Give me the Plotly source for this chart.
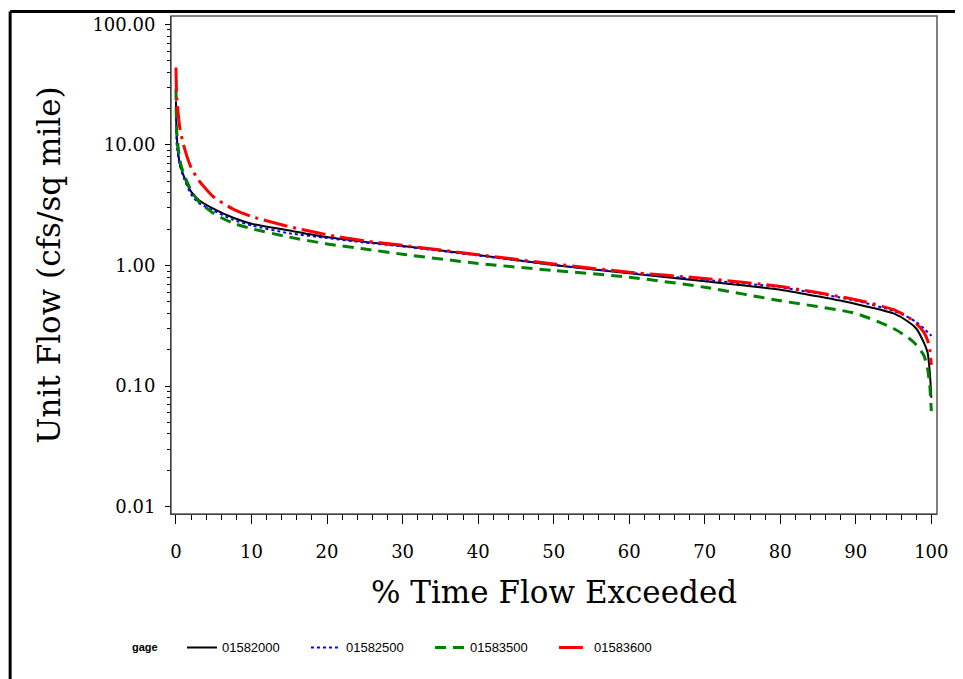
import plotly.graph_objects as go

# ---- data ----
pct = [0, 0.1, 0.5, 1, 2, 3, 5, 7.5, 10, 15, 20, 25, 30, 40, 50, 60, 70, 80, 90, 95, 97, 98, 99, 99.5, 99.8, 100]
gage_01582000 = [23, 12, 7.0, 5.6, 4.1, 3.5, 2.95, 2.5, 2.22, 1.95, 1.72, 1.57, 1.45, 1.22, 1.01, 0.86, 0.74, 0.63, 0.48, 0.40, 0.34, 0.30, 0.23, 0.19, 0.13, 0.08]
gage_01582500 = [18.7, 10, 6.8, 5.4, 3.9, 3.3, 2.85, 2.4, 2.15, 1.85, 1.69, 1.55, 1.44, 1.21, 1.01, 0.87, 0.76, 0.66, 0.51, 0.42, 0.37, 0.34, 0.30, 0.28, 0.27, 0.26]
gage_01583500 = [29, 13, 7.5, 5.8, 4.2, 3.4, 2.7, 2.25, 2.02, 1.72, 1.51, 1.37, 1.24, 1.04, 0.91, 0.80, 0.66, 0.51, 0.40, 0.30, 0.25, 0.22, 0.18, 0.14, 0.10, 0.062]
gage_01583600 = [44, 25, 14, 10, 6.5, 5.1, 3.7, 2.95, 2.55, 2.1, 1.8, 1.6, 1.47, 1.23, 1.03, 0.88, 0.78, 0.67, 0.52, 0.43, 0.37, 0.33, 0.28, 0.24, 0.20, 0.15]

series_names = ["01582000", "01582500", "01583500", "01583600"]
x_tick_vals = [0, 10, 20, 30, 40, 50, 60, 70, 80, 90, 100]
y_tick_vals = [0.01, 0.1, 1, 10, 100]
y_tick_text = ["0.01", "0.10", "1.00", "10.00", "100.00"]
y_minor_vals = [m * 10 ** e for e in (-2, -1, 0, 1) for m in range(2, 10)]

styles = [
    dict(color="black", width=2, dash="solid"),
    dict(color="#0000ff", width=2, dash="3px,3px"),
    dict(color="#008000", width=3, dash="11px,7px"),
    dict(color="#ff0000", width=3, dash="24px,6px,3px,6px"),
]

fig = go.Figure()
for name, vals, st in zip(series_names, [gage_01582000, gage_01582500, gage_01583500, gage_01583600], styles):
    fig.add_trace(go.Scatter(x=pct, y=vals, mode="lines", name=name, line=dict(**st, shape="spline", smoothing=0.6)))

serif = "DejaVu Serif, Liberation Serif, serif"

fig.update_layout(
    width=955, height=671,
    margin=dict(l=163, r=26, t=6, b=165),
    paper_bgcolor="white", plot_bgcolor="white",
    showlegend=True,
    legend=dict(
        orientation="h", x=0.0143, xanchor="left", y=-0.268, yanchor="middle",
        font=dict(family="Liberation Sans Narrow, Liberation Sans, sans-serif", size=13, color="black"),
        entrywidth=79, entrywidthmode="pixels", bgcolor="rgba(0,0,0,0)",
    ),
    annotations=[
        dict(text="<b>gage</b>", xref="paper", yref="paper", x=-0.0535, y=-0.268, xanchor="left", yanchor="middle",
             showarrow=False, font=dict(family="Liberation Sans, Arial, sans-serif", size=11, color="black")),
    ],
    xaxis=dict(
        range=[-0.66, 100.75], tickvals=x_tick_vals, showgrid=False, zeroline=False,
        showline=True, linecolor="black", linewidth=1,
        ticks="outside", ticklen=9, tickcolor="black", ticklabelstandoff=12,
        minor=dict(dtick=2, ticks="outside", ticklen=5, tickcolor="black", showgrid=False),
        tickfont=dict(family=serif, size=18, color="black"),
        title=dict(text="% Time Flow Exceeded", font=dict(family=serif, size=31, color="black"), standoff=20),
    ),
    yaxis=dict(
        type="log", range=[-2.062, 2.07], tickvals=y_tick_vals, ticktext=y_tick_text,
        showgrid=False, zeroline=False, showline=True, linecolor="black", linewidth=1,
        ticks="outside", ticklen=5, tickcolor="black", ticklabelstandoff=6,
        minor=dict(tickmode="array", tickvals=y_minor_vals, ticks="outside", ticklen=3, tickcolor="black", showgrid=False),
        tickfont=dict(family=serif, size=18, color="black"),
        title=dict(text="Unit Flow (cfs/sq mile)", font=dict(family=serif, size=31, color="black"), standoff=22),
    ),
    shapes=[
        dict(type="rect", xref="paper", yref="paper", x0=0, x1=1, y0=0, y1=1, line=dict(color="#555", width=1.5), layer="above"),
        dict(type="line", xref="paper", yref="paper", x0=-0.210, x1=-0.210, y0=1.009, y1=-0.4, line=dict(color="black", width=3)),
        dict(type="line", xref="paper", yref="paper", x0=-0.210, x1=1.1, y0=1.009, y1=1.009, line=dict(color="black", width=3)),
    ],
)

fig.write_html("out.html")
